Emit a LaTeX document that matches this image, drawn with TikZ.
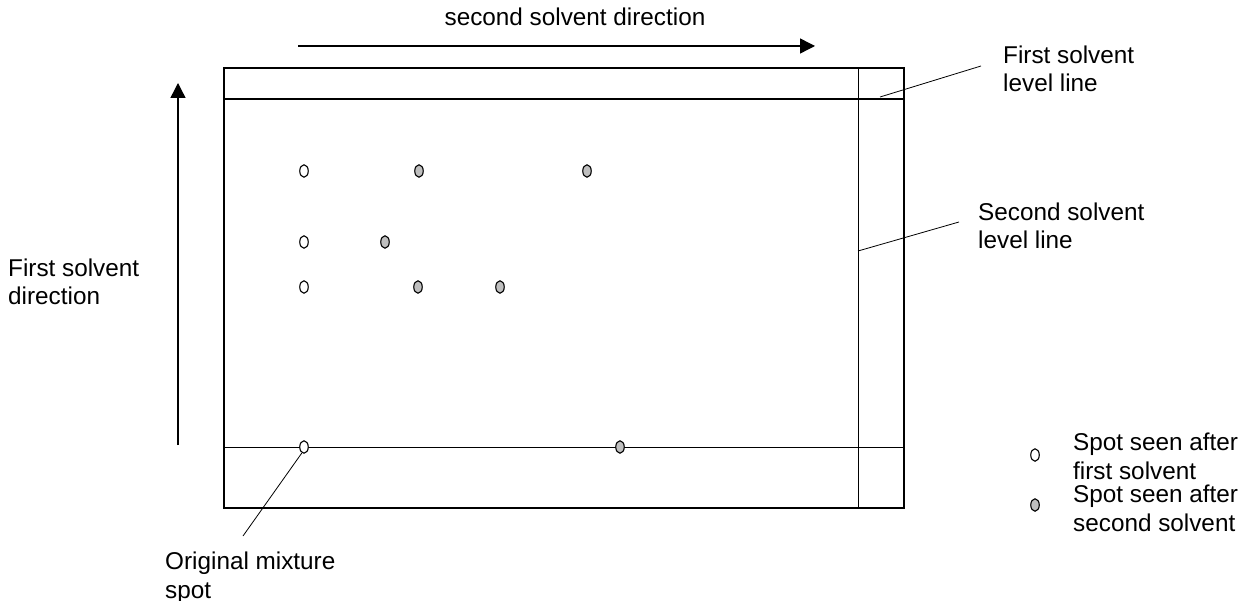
\documentclass[tikz,border=0pt]{standalone}
\usepackage{fontspec}
\setmainfont{Liberation Sans}
\usetikzlibrary{arrows.meta,shapes.geometric}
\begin{document}
\begin{tikzpicture}[x=1pt,y=-1pt,
  lbl/.style={inner sep=0pt,align=left,anchor=base west,font=\fontsize{24.3}{28.5}\selectfont},
  spotw/.style={ellipse,draw,line width=1.1pt,fill=white,minimum width=8.5pt,minimum height=12.5pt,inner sep=0pt},
  spotg/.style={spotw,fill=black!25},
  thin/.style={line width=0.8pt},
  arr/.style={line width=1.4pt,-{Triangle[length=15pt,width=15pt]}}]
\useasboundingbox (0,0) rectangle (1241,601);
% plate
\draw[line width=2.8pt] (224,68) rectangle (904,508);
\draw[line width=2pt] (224,99) -- (904,99);
\draw[thin] (858,68) -- (858,508);
\draw[thin] (224,447) -- (904,447);
% arrows
\coordinate (ta) at (298,46); \coordinate (tb) at (815,46);
\draw[arr] (ta) -- (tb);
\node[lbl,anchor=base] (tt) at (575,26) {second solvent direction};
\coordinate (la) at (178,445); \coordinate (lb) at (178,83);
\draw[arr] (la) -- (lb);
\node[lbl] (lt) at (8,305) {First solvent\\direction};
% spots
\node[spotw] (w1) at (304,171) {};
\node[spotw] (w2) at (304,242) {};
\node[spotw] (w3) at (304,287) {};
\node[spotw] (w0) at (304,447) {};
\node[spotg] (g1) at (419,171) {};
\node[spotg] (g2) at (587,171) {};
\node[spotg] (g3) at (385,242) {};
\node[spotg] (g4) at (418,287) {};
\node[spotg] (g5) at (500,287) {};
\node[spotg] (g6) at (620,447) {};
% labels with leaders
\node[lbl] (fl) at (1003,92) {First solvent\\level line};
\coordinate (fa) at (880,97); \coordinate (fb) at (981,66);
\draw[thin] (fa) -- (fb);
\node[lbl] (sl) at (978,249) {Second solvent\\level line};
\coordinate (sa) at (858,251); \coordinate (sb) at (959,222);
\draw[thin] (sa) -- (sb);
\node[lbl] (om) at (165,598) {Original mixture\\spot};
\coordinate (oa) at (243,536);
\draw[thin] (w0.250) -- (oa);
% legend
\node[spotw] (lw) at (1035,455) {};
\node[spotg] (lg) at (1035,505) {};
\node[lbl] (l1) at (1073,479) {Spot seen after\\first solvent};
\node[lbl] (l2) at (1073,531) {Spot seen after\\second solvent};
\end{tikzpicture}
\end{document}
